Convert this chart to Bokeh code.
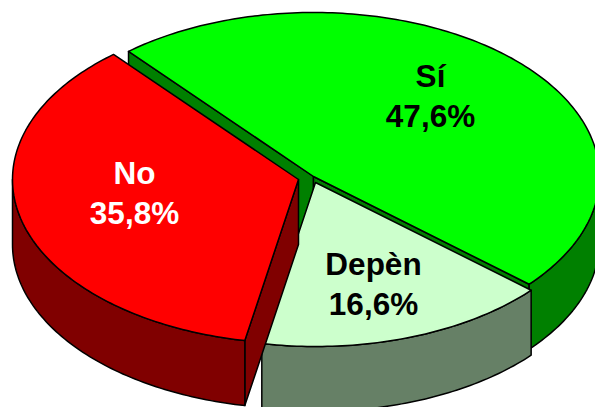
import numpy as np
from bokeh.plotting import figure
from bokeh.models import Range1d
from bokeh.core.properties import value
from bokeh.embed import file_html
from bokeh.resources import INLINE

# data
categories = ["Sí", "Depèn", "No"]
shares = [47.6, 16.6, 35.8]
share_labels = ["47,6%", "16,6%", "35,8%"]

# styling and layout
top_colors = ["#00FF00", "#CCFFCC", "#FF0000"]
wall_colors = ["#008000", "#668066", "#800000"]
text_colors = ["black", "black", "white"]
apexes = [(313, 176), (315, 182), (298, 179)]
label_centres = [(430, 95), (373, 283), (134, 192)]
RX, RY, DEPTH = 286, 164, 65
START_DEG = 229.7
LINE_GAP = 20
FONT_PX = "31.5px"
LINE_W = 1.5

W, H = 595, 407
p = figure(width=W, height=H, output_backend="svg", toolbar_location=None,
           x_range=Range1d(0, W), y_range=Range1d(H, 0),
           min_border=0, outline_line_color=None, background_fill_color="white",
           border_fill_color="white")
p.axis.visible = False
p.grid.visible = False


def arc(apex, t0, t1):
    t = np.radians(np.linspace(t0, t1, max(int(abs(t1 - t0)), 2) + 1))
    return apex[0] + RX * np.cos(t), apex[1] + RY * np.sin(t)


def draw_slice(apex, t0, t1, top, wall):
    xs, ys = [], []
    # radial cut faces that turn toward the viewer
    for t, normal in ((t0, t0 - 90), (t1, t1 + 90)):
        if np.sin(np.radians(normal)) > 0:
            ex, ey = arc(apex, t, t)
            xs.append([apex[0], ex[0], ex[0], apex[0]])
            ys.append([apex[1], ey[0], ey[0] + DEPTH, apex[1] + DEPTH])
    # outer rim walls: only the front half of the ellipse shows
    for k in (0, 1):
        a, b = max(t0, 360 * k), min(t1, 360 * k + 180)
        if b > a:
            ax, ay = arc(apex, a, b)
            xs.append(list(ax) + list(ax[::-1]))
            ys.append(list(ay) + list((ay + DEPTH)[::-1]))
    if xs:
        p.patches(xs, ys, fill_color=wall, line_color="black", line_width=LINE_W,
                  line_join="round")
    tx, ty = arc(apex, t0, t1)
    p.patch([apex[0], *tx], [apex[1], *ty], fill_color=top, line_color="black",
            line_width=LINE_W, line_join="round")


total = sum(shares)
angle = START_DEG
for i, s in enumerate(shares):
    span = s / total * 360
    draw_slice(apexes[i], angle, angle + span, top_colors[i], wall_colors[i])
    angle += span

for i, cat in enumerate(categories):
    cx, cy = label_centres[i]
    p.text([cx, cx], [cy - LINE_GAP, cy + LINE_GAP], text=[cat, share_labels[i]],
           text_font=value("Liberation Sans"), text_font_style="bold",
           text_font_size=FONT_PX, text_color=text_colors[i],
           text_align="center", text_baseline="middle")

open("out.html", "w").write(file_html(p, INLINE))
